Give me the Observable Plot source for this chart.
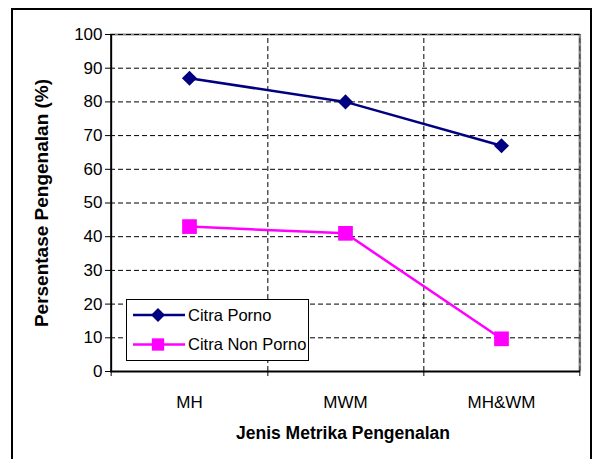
<!DOCTYPE html>
<html>
<head>
<meta charset="utf-8">
<script src="https://cdn.jsdelivr.net/npm/d3@7"></script>
<script src="https://cdn.jsdelivr.net/npm/@observablehq/plot@0.6"></script>
<style>
  html, body { margin: 0; padding: 0; background: #fff; }
  #wrap { position: relative; width: 596px; height: 459px; overflow: hidden; font-family: "Liberation Sans", Arial, sans-serif; }
  #frame { position: absolute; left: 11px; top: 8px; width: 577px; height: 470px; border: 2.5px solid #000; border-bottom: none; }
  #ytitle { position: absolute; left: 42px; top: 203px; transform: translate(-50%, -50%) rotate(-90deg); font-weight: bold; font-size: 19px; white-space: nowrap; }
  #xtitle { position: absolute; left: 343px; top: 433px; transform: translate(-50%, -50%); font-weight: bold; font-size: 17.5px; white-space: nowrap; }
  #legend { position: absolute; left: 0; top: 0; }
</style>
</head>
<body>
<div id="wrap">
  <div id="frame"></div>
  <div id="chart"></div>
  <div id="ytitle"></div>
  <div id="xtitle"></div>
</div>
<script>
const categories = ["MH", "MWM", "MH&WM"];
const seriesNames = ["Citra Porno", "Citra Non Porno"];
const citraPorno = [87, 80, 67];
const citraNonPorno = [43, 41, 9.7];
const yTicks = [0, 10, 20, 30, 40, 50, 60, 70, 80, 90, 100];
const yTitle = "Persentase Pengenalan (%)";
const xTitle = "Jenis Metrika Pengenalan";

const W = 596, H = 459;
const mL = 110, mR = 16, mT = 34, mB = 88;
const step = (W - mL - mR) / categories.length;

const porno = categories.map((c, i) => ({cat: c, value: citraPorno[i]}));
const nonPorno = categories.map((c, i) => ({cat: c, value: citraNonPorno[i]}));
const grid = yTicks.filter(v => v > 0);
const last = categories[categories.length - 1];

const chart = Plot.plot({
  width: W, height: H,
  marginLeft: mL, marginRight: mR, marginTop: mT, marginBottom: mB,
  style: {fontFamily: "'Liberation Sans', Arial, sans-serif", fontSize: "17px", color: "#000", background: "transparent"},
  x: {type: "point", domain: categories, padding: 0.5, label: null, tickSize: 0, tickPadding: 24},
  y: {domain: [0, 100], ticks: yTicks, label: null, tickSize: 5, tickPadding: 3},
  marks: [
    // plot area border (top and right), gray
    Plot.ruleY([100], {stroke: "#888", strokeWidth: 2}),
    Plot.ruleX([last], {dx: step / 2, y1: 0, y2: 100, stroke: "#888", strokeWidth: 2.5}),
    // horizontal gridlines
    Plot.ruleY(grid, {stroke: "#000", strokeWidth: 1, strokeDasharray: "5,3"}),
    Plot.ruleX([last], {dx: step / 2, y1: 0, y2: 100, stroke: "#333", strokeWidth: 1, strokeDasharray: "5,3"}),
    // vertical dividers between categories
    Plot.ruleX(categories.slice(0, -1), {dx: step / 2, y1: 0, y2: 100, stroke: "#000", strokeWidth: 1, strokeDasharray: "5,3"}),
    // x tick marks at category boundaries
    Plot.ruleX(categories, {dx: step / 2, y1: 0, y2: -1.5, stroke: "#000", strokeWidth: 1}),
    Plot.ruleX([categories[0]], {dx: -step / 2, y1: 0, y2: -1.5, stroke: "#000", strokeWidth: 1}),
    // axis lines
    Plot.ruleX([categories[0]], {dx: -step / 2, y1: 0, y2: 100, stroke: "#000", strokeWidth: 2}),
    Plot.ruleY([0], {stroke: "#000", strokeWidth: 2}),
    // series
    Plot.line(porno, {x: "cat", y: "value", stroke: "#000080", strokeWidth: 2.5}),
    Plot.dot(porno, {x: "cat", y: "value", symbol: "diamond2", r: 6.8, fill: "#000080", stroke: "none"}),
    Plot.line(nonPorno, {x: "cat", y: "value", stroke: "#FF00FF", strokeWidth: 2.5}),
    Plot.dot(nonPorno, {x: "cat", y: "value", symbol: "square", r: 8.3, fill: "#FF00FF", stroke: "none"})
  ]
});
chart.style.position = "absolute";
chart.style.left = "0";
chart.style.top = "0";
document.getElementById("chart").appendChild(chart);
document.getElementById("ytitle").textContent = yTitle;
document.getElementById("xtitle").textContent = xTitle;

// Legend (inside plot area, lower left)
const leg = d3.select("#wrap").append("svg")
  .attr("id", "legend").attr("width", W).attr("height", H);
const lx = 126, ly = 299, lw = 182, lh = 61;
leg.append("rect").attr("x", lx + 0.5).attr("y", ly + 0.5).attr("width", lw).attr("height", lh)
  .attr("fill", "#fff").attr("stroke", "#000").attr("stroke-width", 1);
const items = [
  {name: seriesNames[0], color: "#000080", sym: d3.symbolDiamond2, size: Math.PI * 6.8 * 6.8 * 0.85},
  {name: seriesNames[1], color: "#FF00FF", sym: d3.symbolSquare, size: Math.PI * 8.3 * 8.3 * 0.7}
];
items.forEach((it, i) => {
  const y = 315 + i * 29.5;
  leg.append("line").attr("x1", 133).attr("x2", 185).attr("y1", y).attr("y2", y)
    .attr("stroke", it.color).attr("stroke-width", 2.5);
  leg.append("path").attr("d", d3.symbol(it.sym, it.size)()).attr("transform", `translate(158,${y})`)
    .attr("fill", it.color);
  leg.append("text").attr("x", 188).attr("y", y).attr("dy", "0.36em")
    .attr("font-family", "'Liberation Sans', Arial, sans-serif").attr("font-size", 16.5)
    .attr("fill", "#000").text(it.name);
});
</script>
</body>
</html>
